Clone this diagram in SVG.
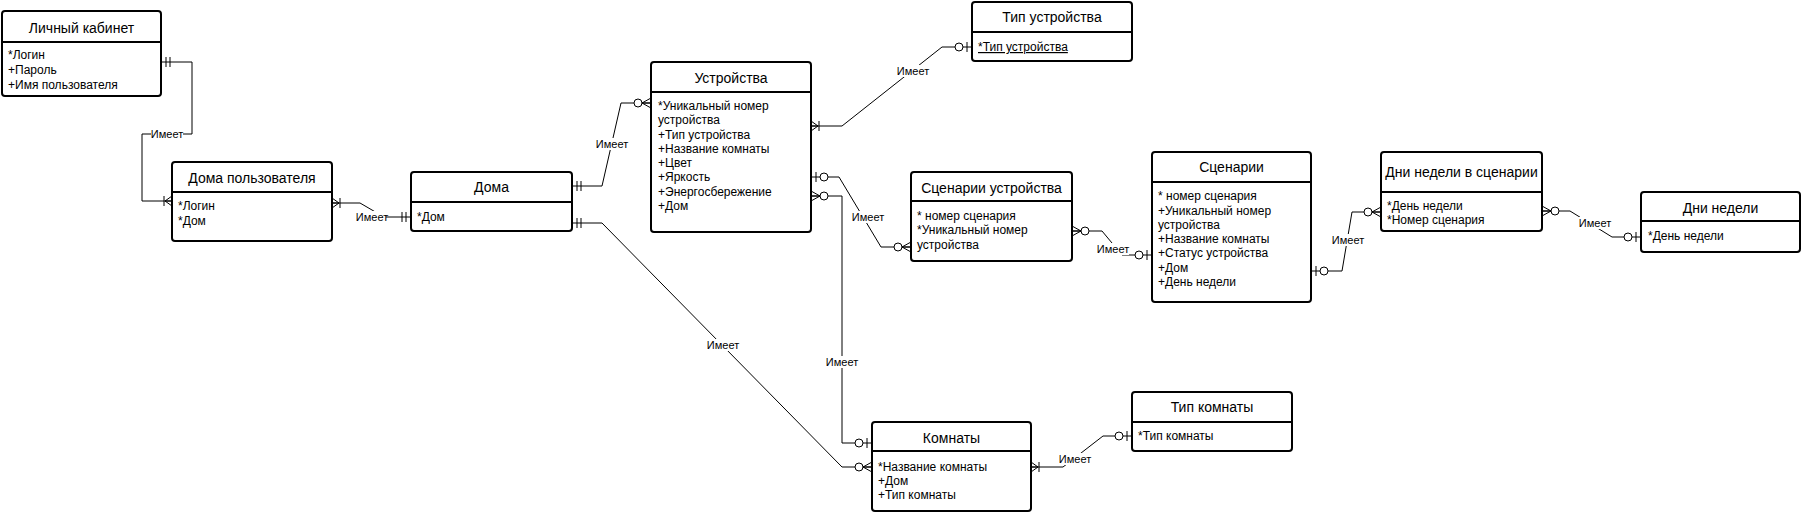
<svg xmlns="http://www.w3.org/2000/svg" width="1802" height="512" viewBox="0 0 1802 512">
<style>
.box{fill:#fff;stroke:#000;stroke-width:2}
.div{stroke:#000;stroke-width:2}
.title{font-family:"Liberation Sans",Arial,sans-serif;font-size:14px;fill:#000;text-anchor:middle}
.attr{font-family:"Liberation Sans",Arial,sans-serif;font-size:12px;fill:#000}
.conn{fill:none;stroke:#000;stroke-width:1}
.lbg{fill:#fff}
.lbl{font-family:"Liberation Sans",Arial,sans-serif;font-size:11px;fill:#000;text-anchor:middle}
.m{fill:none;stroke:#000;stroke-width:1}
.mc{fill:#fff;stroke:#000;stroke-width:1}
</style>
<defs>
<marker id="mandOne" markerUnits="userSpaceOnUse" orient="auto-start-reverse" viewBox="-20 -10 20 20" markerWidth="20" markerHeight="20" refX="0" refY="0" overflow="visible">
<path class="m" d="M-5,-5V5M-9,-5V5"/>
</marker>
<marker id="zeroMany" markerUnits="userSpaceOnUse" orient="auto-start-reverse" viewBox="-20 -10 20 20" markerWidth="20" markerHeight="20" refX="0" refY="0" overflow="visible">
<path class="m" d="M0,-5L-9,0L0,5M-9,0H0"/>
<circle class="mc" cx="-13" cy="0" r="4"/>
</marker>
<marker id="oneMany" markerUnits="userSpaceOnUse" orient="auto-start-reverse" viewBox="-20 -10 20 20" markerWidth="20" markerHeight="20" refX="0" refY="0" overflow="visible">
<path class="m" d="M0,-5L-7,0L0,5M-7,0H0M-8,-5V5"/>
</marker>
<marker id="zeroOne" markerUnits="userSpaceOnUse" orient="auto-start-reverse" viewBox="-20 -10 20 20" markerWidth="20" markerHeight="20" refX="0" refY="0" overflow="visible">
<path class="m" d="M-5,-5V5"/>
<circle class="mc" cx="-13" cy="0" r="4"/>
</marker>
</defs>

<g id="connectors">
<path class="conn" d="M161,62H192V134H142V201H172" marker-start="url(#mandOne)" marker-end="url(#oneMany)"/>
<path class="conn" d="M332,203H360L384,217H411" marker-start="url(#oneMany)" marker-end="url(#mandOne)"/>
<path class="conn" d="M572,186H602L621,103H651" marker-start="url(#mandOne)" marker-end="url(#zeroMany)"/>
<path class="conn" d="M572,223H602L842,467H872" marker-start="url(#mandOne)" marker-end="url(#zeroMany)"/>
<path class="conn" d="M811,126H842L942,47H972" marker-start="url(#oneMany)" marker-end="url(#zeroOne)"/>
<path class="conn" d="M811,177H839L881,247H911" marker-start="url(#zeroOne)" marker-end="url(#zeroMany)"/>
<path class="conn" d="M811,196H842V443H872" marker-start="url(#zeroMany)" marker-end="url(#zeroOne)"/>
<path class="conn" d="M1072,231H1102L1122,255H1152" marker-start="url(#zeroMany)" marker-end="url(#zeroOne)"/>
<path class="conn" d="M1311,271H1342L1352,212H1381" marker-start="url(#zeroOne)" marker-end="url(#zeroMany)"/>
<path class="conn" d="M1542,211H1570L1612,237H1641" marker-start="url(#zeroMany)" marker-end="url(#zeroOne)"/>
<path class="conn" d="M1031,467H1063L1103,436H1132" marker-start="url(#oneMany)" marker-end="url(#zeroOne)"/>
<g id="labels">
<rect class="lbg" x="151" y="128" width="32" height="12"/><text class="lbl" x="167" y="138">Имеет</text>
<rect class="lbg" x="358" y="211" width="28" height="12"/><text class="lbl" x="372" y="221">Имеет</text>
<rect class="lbg" x="596" y="138" width="32" height="12"/><text class="lbl" x="612" y="148">Имеет</text>
<rect class="lbg" x="707" y="339" width="32" height="12"/><text class="lbl" x="723" y="349">Имеет</text>
<rect class="lbg" x="897" y="65" width="32" height="12"/><text class="lbl" x="913" y="75">Имеет</text>
<rect class="lbg" x="852" y="211" width="32" height="12"/><text class="lbl" x="868" y="221">Имеет</text>
<rect class="lbg" x="826" y="356" width="32" height="12"/><text class="lbl" x="842" y="366">Имеет</text>
<rect class="lbg" x="1097" y="243" width="32" height="12"/><text class="lbl" x="1113" y="253">Имеет</text>
<rect class="lbg" x="1332" y="234" width="32" height="12"/><text class="lbl" x="1348" y="244">Имеет</text>
<rect class="lbg" x="1579" y="217" width="32" height="12"/><text class="lbl" x="1595" y="227">Имеет</text>
<rect class="lbg" x="1059" y="453" width="32" height="12"/><text class="lbl" x="1075" y="463">Имеет</text>
</g>
</g>

<g id="lichny-kabinet">
<rect class="box" x="2" y="11" width="159" height="85" rx="3"/>
<line class="div" x1="2" y1="42" x2="161" y2="42"/>
<text class="title" x="81.5" y="33">Личный кабинет</text>
<text class="attr" x="8" y="59">*Логин</text>
<text class="attr" x="8" y="74">+Пароль</text>
<text class="attr" x="8" y="89">+Имя пользователя</text>
</g>

<g id="doma-polzovatelya">
<rect class="box" x="172" y="162" width="160" height="79" rx="3"/>
<line class="div" x1="172" y1="192" x2="332" y2="192"/>
<text class="title" x="252" y="183">Дома пользователя</text>
<text class="attr" x="178" y="210">*Логин</text>
<text class="attr" x="178" y="225">*Дом</text>
</g>

<g id="doma">
<rect class="box" x="411" y="172" width="161" height="59" rx="3"/>
<line class="div" x1="411" y1="202" x2="572" y2="202"/>
<text class="title" x="491.5" y="192">Дома</text>
<text class="attr" x="417" y="221">*Дом</text>
</g>

<g id="ustroystva">
<rect class="box" x="651" y="62" width="160" height="170" rx="3"/>
<line class="div" x1="651" y1="92" x2="811" y2="92"/>
<text class="title" x="731" y="83">Устройства</text>
<text class="attr" x="658" y="110">*Уникальный номер</text>
<text class="attr" x="658" y="124">устройства</text>
<text class="attr" x="658" y="139">+Тип устройства</text>
<text class="attr" x="658" y="153">+Название комнаты</text>
<text class="attr" x="658" y="167">+Цвет</text>
<text class="attr" x="658" y="181">+Яркость</text>
<text class="attr" x="658" y="196">+Энергосбережение</text>
<text class="attr" x="658" y="210">+Дом</text>
</g>

<g id="tip-ustroystva">
<rect class="box" x="972" y="2" width="160" height="59" rx="3"/>
<line class="div" x1="972" y1="32" x2="1132" y2="32"/>
<text class="title" x="1052" y="22">Тип устройства</text>
<text class="attr" x="978" y="51" text-decoration="underline">*Тип устройства</text>
</g>

<g id="scenarii-ustroystva">
<rect class="box" x="911" y="172" width="161" height="89" rx="3"/>
<line class="div" x1="911" y1="201" x2="1072" y2="201"/>
<text class="title" x="991.5" y="193">Сценарии устройства</text>
<text class="attr" x="917" y="220">* номер сценария</text>
<text class="attr" x="917" y="234">*Уникальный номер</text>
<text class="attr" x="917" y="249">устройства</text>
</g>

<g id="scenarii">
<rect class="box" x="1152" y="152" width="159" height="150" rx="3"/>
<line class="div" x1="1152" y1="182" x2="1311" y2="182"/>
<text class="title" x="1231.5" y="172">Сценарии</text>
<text class="attr" x="1158" y="200">* номер сценария</text>
<text class="attr" x="1158" y="215">+Уникальный номер</text>
<text class="attr" x="1158" y="229">устройства</text>
<text class="attr" x="1158" y="243">+Название комнаты</text>
<text class="attr" x="1158" y="257">+Статус устройства</text>
<text class="attr" x="1158" y="272">+Дом</text>
<text class="attr" x="1158" y="286">+День недели</text>
</g>

<g id="dni-nedeli-v-scenarii">
<rect class="box" x="1381" y="152" width="161" height="79" rx="3"/>
<line class="div" x1="1381" y1="192" x2="1542" y2="192"/>
<text class="title" x="1461.5" y="177">Дни недели в сценарии</text>
<text class="attr" x="1387" y="210">*День недели</text>
<text class="attr" x="1387" y="224">*Номер сценария</text>
</g>

<g id="dni-nedeli">
<rect class="box" x="1641" y="192" width="159" height="60" rx="3"/>
<line class="div" x1="1641" y1="221" x2="1800" y2="221"/>
<text class="title" x="1720.5" y="213">Дни недели</text>
<text class="attr" x="1648" y="240">*День недели</text>
</g>

<g id="komnaty">
<rect class="box" x="872" y="422" width="159" height="89" rx="3"/>
<line class="div" x1="872" y1="451" x2="1031" y2="451"/>
<text class="title" x="951.5" y="443">Комнаты</text>
<text class="attr" x="878" y="471">*Название комнаты</text>
<text class="attr" x="878" y="485">+Дом</text>
<text class="attr" x="878" y="499">+Тип комнаты</text>
</g>

<g id="tip-komnaty">
<rect class="box" x="1132" y="392" width="160" height="59" rx="3"/>
<line class="div" x1="1132" y1="422" x2="1292" y2="422"/>
<text class="title" x="1212" y="412">Тип комнаты</text>
<text class="attr" x="1138" y="440">*Тип комнаты</text>
</g>
</svg>
